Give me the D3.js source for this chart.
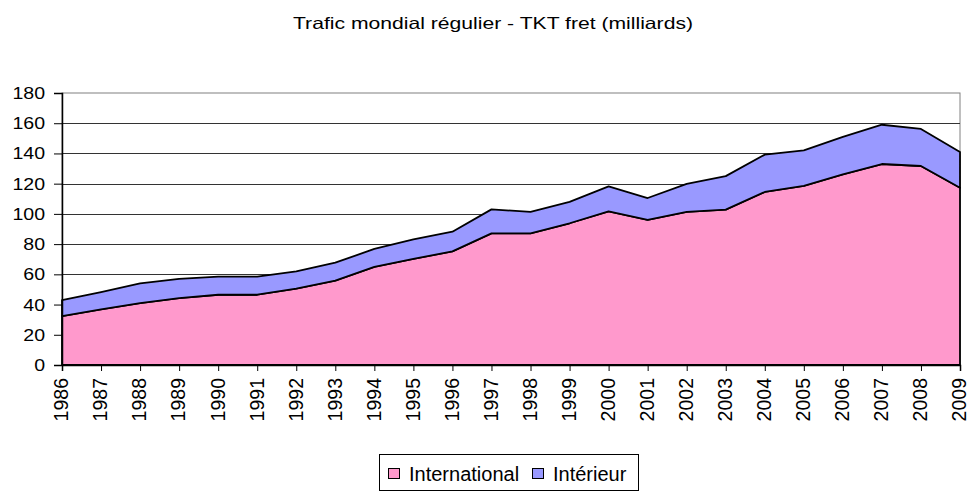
<!doctype html>
<html lang="fr">
<head>
    <meta charset="utf-8">
    <title>Trafic mondial régulier - TKT fret</title>
    <script src="https://cdnjs.cloudflare.com/ajax/libs/d3/7.8.5/d3.min.js"></script>
    <style>
        body { margin: 0; background: #fff; }
        svg text { font-family: "Liberation Sans", Arial, sans-serif; fill: #000; }
    </style>
</head>
<body>
    <div id="chart"></div>
    <script>
        // data (milliards de TKT)
        var years = [1986, 1987, 1988, 1989, 1990, 1991, 1992, 1993, 1994, 1995, 1996, 1997,
                     1998, 1999, 2000, 2001, 2002, 2003, 2004, 2005, 2006, 2007, 2008, 2009];
        var international = [32.4, 36.8, 41, 44.3, 46.5, 46.5, 50.5, 55.8, 65, 70.2, 75.2, 87.1,
                             87.1, 93.8, 101.7, 96, 101.3, 102.8, 114.5, 118.5, 126.2, 133, 131.7, 117.3];
        var interieur = [10.6, 11.5, 13, 12.7, 12, 12, 11.5, 11.9, 11.8, 13, 13, 15.9,
                         14.2, 14.2, 16.5, 14.5, 18.5, 22.2, 24.7, 23.5, 24.8, 26, 24.5, 23.7];
        var yTicks = [0, 20, 40, 60, 80, 100, 120, 140, 160, 180];
        var seriesNames = ["International", "Intérieur"];
        var seriesColors = ["#ff99cc", "#9999ff"];

        var width = 972, height = 492;
        var plot = { left: 62, right: 960, top: 93, bottom: 365 };

        var svg = d3.select("#chart").append("svg")
            .attr("width", width)
            .attr("height", height);

        var rows = years.map(function (y, i) {
            return { year: y, International: international[i], "Intérieur": interieur[i] };
        });

        var xScale = d3.scalePoint().domain(years).range([plot.left, plot.right]);
        var yScale = d3.scaleLinear().domain([0, 180]).range([plot.bottom, plot.top]);

        // title (the original is drawn wider than the font, so stretch it)
        svg.append("text")
            .attr("x", 293)
            .attr("y", 29)
            .attr("textLength", 400)
            .attr("lengthAdjust", "spacingAndGlyphs")
            .style("font-size", "16.5px")
            .text("Trafic mondial régulier - TKT fret (milliards)");

        // plot frame + gridlines
        svg.append("rect")
            .attr("x", plot.left)
            .attr("y", plot.top)
            .attr("width", plot.right - plot.left)
            .attr("height", plot.bottom - plot.top)
            .attr("fill", "none")
            .attr("stroke", "#808080");

        svg.append("g")
            .selectAll("line")
            .data(yTicks.slice(1, -1))
            .enter().append("line")
            .attr("x1", plot.left)
            .attr("x2", plot.right)
            .attr("y1", function (d) { return Math.round(yScale(d)) + 0.5; })
            .attr("y2", function (d) { return Math.round(yScale(d)) + 0.5; })
            .attr("stroke", "#333");

        // stacked areas
        var stacked = d3.stack().keys(seriesNames)(rows);
        var area = d3.area()
            .x(function (d) { return xScale(d.data.year); })
            .y0(function (d) { return yScale(d[0]); })
            .y1(function (d) { return yScale(d[1]); });

        svg.append("g")
            .selectAll("path")
            .data(stacked)
            .enter().append("path")
            .attr("d", area)
            .attr("fill", function (d, i) { return seriesColors[i]; })
            .attr("stroke", "#000")
            .attr("stroke-width", 1.8)
            .attr("stroke-linejoin", "round");

        // axes
        var yAxis = d3.axisLeft(yScale).tickValues(yTicks).tickSize(8).tickPadding(9);
        var gy = svg.append("g")
            .attr("transform", "translate(" + plot.left + ",0)")
            .call(yAxis);
        gy.select(".domain").attr("stroke", "#000").attr("stroke-width", 1.5);
        gy.selectAll(".tick line").attr("stroke", "#000");
        gy.selectAll(".tick text")
            .style("font-size", "17px")
            .attr("font-family", null)
            .attr("x", null)
            .attr("transform", "translate(-17,0) scale(1.15,1)");

        var xAxis = d3.axisBottom(xScale).tickSize(6).tickPadding(6);
        var gx = svg.append("g")
            .attr("transform", "translate(0," + plot.bottom + ")")
            .call(xAxis);
        gx.select(".domain").attr("stroke", "#000").attr("stroke-width", 1.5);
        gx.selectAll(".tick line").attr("stroke", "#000");
        gx.selectAll("text")
            .style("font-size", "19.5px")
            .attr("font-family", null)
            .attr("text-anchor", "end")
            .attr("dy", "0.35em")
            .attr("transform", "translate(-1,13) rotate(-90)")
            .attr("x", 0)
            .attr("y", 0);

        // legend
        var legend = svg.append("g");
        legend.append("rect")
            .attr("x", 379.5)
            .attr("y", 454.5)
            .attr("width", 259)
            .attr("height", 36)
            .attr("fill", "#fff")
            .attr("stroke", "#000");

        var legendX = [388, 532];
        seriesNames.forEach(function (name, i) {
            legend.append("rect")
                .attr("x", legendX[i] + 0.5)
                .attr("y", 468.5)
                .attr("width", 11)
                .attr("height", 10)
                .attr("fill", seriesColors[i])
                .attr("stroke", "#000");
            legend.append("text")
                .attr("x", legendX[i] + 21)
                .attr("y", 481)
                .style("font-size", "20px")
                .text(name);
        });
    </script>
</body>
</html>
